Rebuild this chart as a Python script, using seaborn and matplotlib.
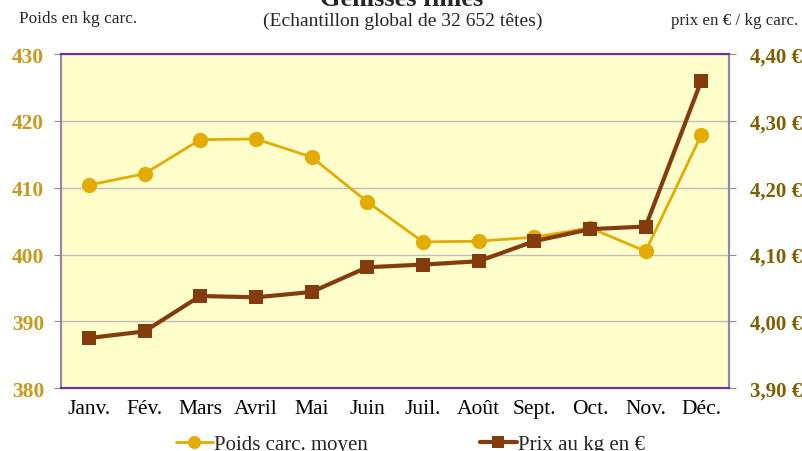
import pandas as pd
import seaborn as sns
import matplotlib.pyplot as plt
from matplotlib.ticker import FuncFormatter, FixedLocator

# data
mois = ['Janv.', 'Fév.', 'Mars', 'Avril', 'Mai', 'Juin', 'Juil.', 'Août',
        'Sept.', 'Oct.', 'Nov.', 'Déc.']
poids = [410.4, 412.1, 417.2, 417.3, 414.6, 407.9, 401.9, 402.0, 402.6, 404.0, 400.5, 417.9]
prix = [3.975, 3.985, 4.038, 4.036, 4.044, 4.081, 4.085, 4.090, 4.120, 4.138, 4.142, 4.360]

df = pd.DataFrame({'pos': range(len(mois)), 'mois': mois, 'poids': poids, 'prix': prix})

gold = '#E3AC00'
brown = '#843C0C'

sns.set_style('white')
plt.rcParams['font.family'] = ['Liberation Serif', 'DejaVu Serif']

fig = plt.figure(figsize=(8.03, 4.52), dpi=100)
ax = fig.add_axes([0.076, 0.139, 0.832, 0.739])
ax.set_facecolor('#FFFFCC')

sns.lineplot(data=df, x='pos', y='poids', ax=ax, color=gold, lw=2,
             marker='o', markersize=11, markeredgewidth=0, label='Poids carc. moyen',
             legend=False)

ax2 = ax.twinx()
sns.lineplot(data=df, x='pos', y='prix', ax=ax2, color=brown, lw=3,
             marker='s', markersize=10, markeredgewidth=0, label='Prix au kg en €',
             legend=False)

ax.set_xlim(-0.5, len(mois) - 0.5)
ax.set_ylim(380, 430)
ax2.set_ylim(3.90, 4.40)
ax.set_yticks(range(380, 431, 10))
ax2.set_yticks([3.9 + 0.1 * i for i in range(6)])
ax2.yaxis.set_major_formatter(FuncFormatter(lambda v, p: f'{v:.2f} €'.replace('.', ',')))

ax.set_xticks(range(len(mois)))
ax.set_xticklabels(mois)
ax.xaxis.set_minor_locator(FixedLocator([i - 0.5 for i in range(len(mois) + 1)]))
ax.tick_params(axis='x', which='major', length=0, pad=8, labelsize=15.5, labelcolor='black')
ax.tick_params(axis='x', which='minor', length=5, color='#8C8C8C', direction='out')
ax.tick_params(axis='y', length=5, color='#8C8C8C', direction='out', pad=7,
               labelsize=15.5, labelcolor='#C89A1E')
ax2.tick_params(axis='y', length=5, color='#8C8C8C', direction='out', pad=10,
                labelsize=15, labelcolor='#7F6000')
for lab in ax.get_yticklabels():
    lab.set_fontweight('bold')
for lab in ax2.get_yticklabels():
    lab.set_fontweight('bold')

ax.set_xlabel('')
ax.set_ylabel('')
ax2.set_ylabel('')

ax.grid(axis='y', color='#BDBDBD', lw=1)
ax.grid(axis='x', visible=False)

for a in (ax, ax2):
    a.spines['top'].set_color('#7030A0')
    a.spines['bottom'].set_color('#7030A0')
    a.spines['left'].set_color('#9088A0')
    a.spines['right'].set_color('#9088A0')
    for s in a.spines.values():
        s.set_linewidth(1.5)
        s.set_visible(True)

fig.text(0.5, 0.986, 'Génisses finies', ha='center', va='baseline',
         fontsize=19, fontweight='bold')
fig.text(0.502, 0.952, '(Echantillon global de 32 652 têtes)', ha='center', va='center',
         fontsize=14)
fig.text(0.024, 0.957, 'Poids en kg carc.', ha='left', va='center', fontsize=12.4)
fig.text(0.994, 0.953, 'prix en € / kg carc.', ha='right', va='center', fontsize=12.2)

h1, l1 = ax.get_legend_handles_labels()
h2, l2 = ax2.get_legend_handles_labels()
fig.legend(h1 + h2, l1 + l2, loc='center', bbox_to_anchor=(0.511, 0.014), ncol=2,
           frameon=False, fontsize=15, columnspacing=5.4, handlelength=1.75,
           handletextpad=0.05, markerscale=0.85)

fig.savefig('out.png', dpi=100)
